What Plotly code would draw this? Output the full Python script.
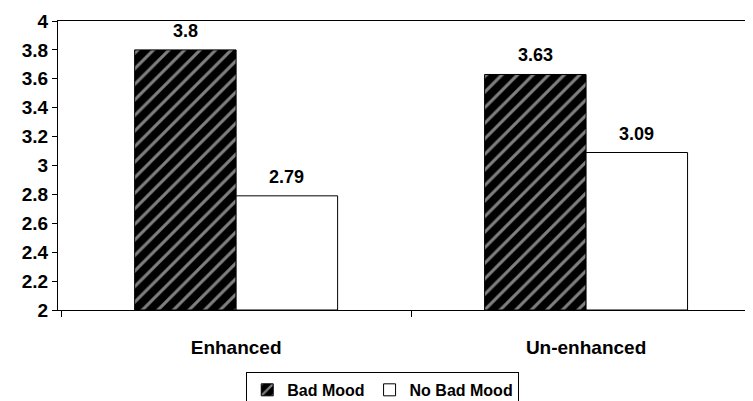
import plotly.graph_objects as go

categories = ["Enhanced", "Un-enhanced"]
bad_mood = [3.8, 3.63]
no_bad_mood = [2.79, 3.09]
series_names = ["Bad Mood", "No Bad Mood"]
ytick_vals = [2, 2.2, 2.4, 2.6, 2.8, 3, 3.2, 3.4, 3.6, 3.8, 4]
ytick_text = ["2", "2.2", "2.4", "2.6", "2.8", "3", "3.2", "3.4", "3.6", "3.8", "4"]

FONT = "Liberation Sans, Arial, sans-serif"
xpos = list(range(len(categories)))
BARW = 0.29

fig = go.Figure()
fig.add_trace(go.Bar(
    x=xpos, y=[v - 2 for v in bad_mood], base=2, name=f"<b>{series_names[0]}</b>",
    width=BARW, offset=-BARW,
    marker=dict(color="black", line=dict(color="black", width=1),
                pattern=dict(shape="/", fgcolor="white", bgcolor="black", size=11, solidity=0.28)),
))
fig.add_trace(go.Bar(
    x=xpos, y=[v - 2 for v in no_bad_mood], base=2, name=f"<b>{series_names[1]}</b>",
    width=BARW, offset=0,
    marker=dict(color="white", line=dict(color="black", width=1)),
))

annotations = []
for i, v in enumerate(bad_mood):
    annotations.append(dict(x=xpos[i] - BARW / 2, y=v, xref="x", yref="y", text=f"<b>{v:g}</b>",
                            showarrow=False, yanchor="bottom", yshift=7,
                            font=dict(family=FONT, size=18, color="black")))
for i, v in enumerate(no_bad_mood):
    annotations.append(dict(x=xpos[i] + BARW / 2, y=v, xref="x", yref="y", text=f"<b>{v:g}</b>",
                            showarrow=False, yanchor="bottom", yshift=7,
                            font=dict(family=FONT, size=18, color="black")))

fig.update_layout(
    width=745, height=393,
    margin=dict(l=50, r=0, t=13, b=91),
    paper_bgcolor="white", plot_bgcolor="white",
    barmode="overlay",
    font=dict(family=FONT, size=16, color="black"),
    showlegend=True,
    annotations=annotations,
    legend=dict(orientation="h", xref="container", yref="container",
                x=0.503, xanchor="center", y=0.074, yanchor="top",
                bordercolor="black", borderwidth=1, font=dict(family=FONT, size=16, color="black"),
                itemwidth=30, traceorder="normal", tracegroupgap=0),
    xaxis=dict(range=[-0.509, 1.477], tickvals=xpos,
               ticktext=[f"<b>{c}</b>" for c in categories], ticks="",
               showline=True, linecolor="black", linewidth=1, mirror=True,
               showgrid=False, zeroline=False, automargin=False,
               ticklabelstandoff=20,
               minor=dict(tickvals=[-0.5, 0.5], ticks="outside", ticklen=6, tickcolor="black"),
               tickfont=dict(family=FONT, size=19, color="black")),
    yaxis=dict(range=[2, 4], tickvals=ytick_vals, ticktext=[f"<b>{t}</b>" for t in ytick_text],
               ticks="outside", ticklen=5, tickcolor="black",
               showline=True, linecolor="black", linewidth=1,
               showgrid=False, zeroline=False, automargin=False,
               tickfont=dict(family=FONT, size=19, color="black")),
)

fig.write_html("out.html")
